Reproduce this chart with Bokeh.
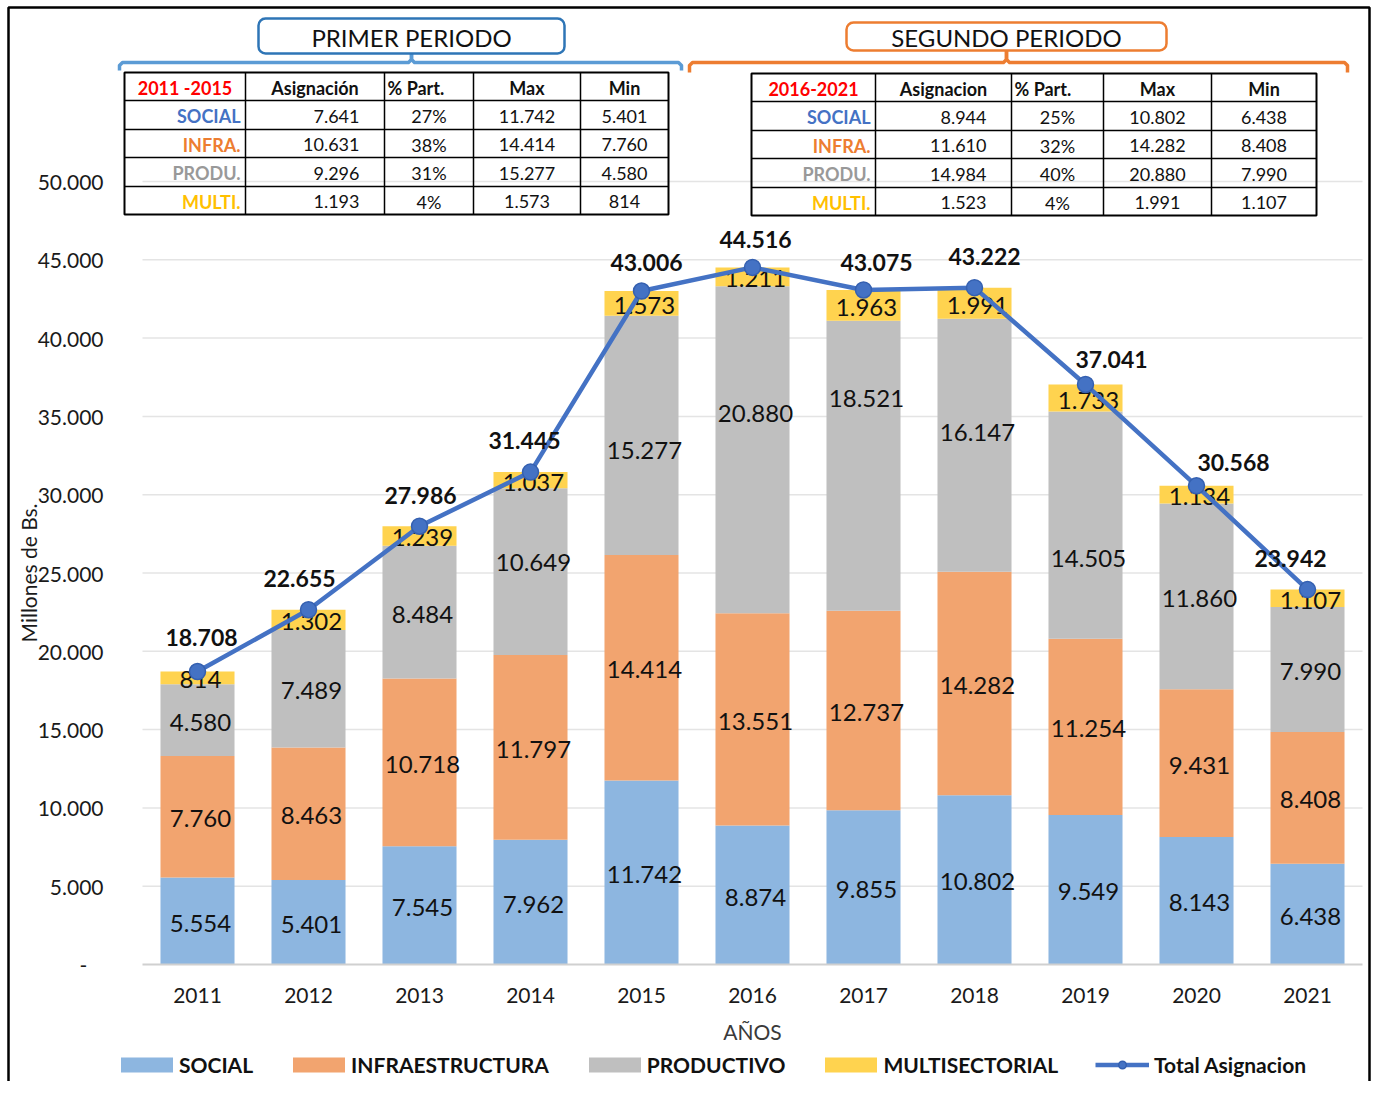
import numpy as np
from bokeh.plotting import figure
from bokeh.models import ColumnDataSource, Range1d, FixedTicker, Legend, LegendItem, BoxAnnotation
from bokeh.core.properties import value
from bokeh.embed import file_html
from bokeh.resources import INLINE

# ---------------- data ----------------
YEARS = [2011, 2012, 2013, 2014, 2015, 2016, 2017, 2018, 2019, 2020, 2021]
SOCIAL = [5554, 5401, 7545, 7962, 11742, 8874, 9855, 10802, 9549, 8143, 6438]
INFRA = [7760, 8463, 10718, 11797, 14414, 13551, 12737, 14282, 11254, 9431, 8408]
PRODU = [4580, 7489, 8484, 10649, 15277, 20880, 18521, 16147, 14505, 11860, 7990]
MULTI = [814, 1302, 1239, 1037, 1573, 1211, 1963, 1991, 1733, 1134, 1107]
TOTAL = [18708, 22655, 27986, 31445, 43006, 44516, 43075, 43222, 37041, 30568, 23942]

SERIES_NAMES = ["SOCIAL", "INFRAESTRUCTURA", "PRODUCTIVO", "MULTISECTORIAL"]
LINE_NAME = "Total Asignacion"
Y_TICKS = [0, 5000, 10000, 15000, 20000, 25000, 30000, 35000, 40000, 45000, 50000]
Y_TITLE = "Millones de Bs."
X_TITLE = "AÑOS"

T_ROW_LABELS = ["SOCIAL", "INFRA.", "PRODU.", "MULTI."]
T1_TITLE = "PRIMER PERIODO"
T1_HEAD = ["2011 -2015", "Asignación", "% Part.", "Max", "Min"]
T1_ASIG = [7641, 10631, 9296, 1193]
T1_PART = [27, 38, 31, 4]
T1_MAX = [11742, 14414, 15277, 1573]
T1_MIN = [5401, 7760, 4580, 814]
T2_TITLE = "SEGUNDO PERIODO"
T2_HEAD = ["2016-2021", "Asignacion", "% Part.", "Max", "Min"]
T2_ASIG = [8944, 11610, 14984, 1523]
T2_PART = [25, 32, 40, 4]
T2_MAX = [10802, 14282, 20880, 1991]
T2_MIN = [6438, 8408, 7990, 1107]

# ---------------- layout / style (pixel geometry) ----------------
W, H = 1371, 1081
Y_ZERO_PX = 964
PX_YEAR = 111.0
X_FIRST = 197.0
PX_PER_UNIT = 0.01566
BAR_W = 0.667

C_SOCIAL, C_INFRA, C_PRODU, C_MULTI = "#8DB6E0", "#F2A46F", "#BFBFBF", "#FFD34F"
C_LINE = "#4472C4"
ROW_COLORS = ["#4472C4", "#ED7D31", "#999999", "#FFC000"]
FONT = value("Lato")

# label nudges in pixels (positive = down / right)
TOTAL_DX = [4, -9, 1, -6, 5, 3, 13, 10, 26, 37, -17]
TOTAL_UP = [34, 31, 31, 32, 28.5, 28, 27.5, 31, 25, 23, 31]
PRODU_DY = [0, 0, 0, -11, 13, -38, -69, -15, 31, 0, 0]
SEG_DY_ALL = 2

T1_COLS = [124, 245, 384, 473, 580, 668]
T1_ROWS = [72, 100, 129, 157, 186, 214]
T2_COLS = [751, 875, 1011, 1103, 1211, 1316]
T2_ROWS = [73, 101, 130, 158, 187, 215]


def X(px):
    return 2011 + (px - X_FIRST) / PX_YEAR


def Y(py):
    return (Y_ZERO_PX - py) / PX_PER_UNIT


def fmt(v):
    return f"{int(round(v)):,}".replace(",", ".")


p = figure(width=W, height=H, output_backend="svg", toolbar_location=None,
           x_range=Range1d(X(0), X(W)), y_range=Range1d(Y(H), Y(0)),
           min_border=0, min_border_left=0, min_border_right=0,
           min_border_top=0, min_border_bottom=0)
p.border_fill_color = "white"
p.background_fill_color = "white"
p.outline_line_color = None
p.xgrid.visible = False
p.ygrid.visible = False

# outer border of the chart area
border = BoxAnnotation(left=8, right=W - 2, top=7, bottom=H + 20,
                       left_units="canvas", right_units="canvas",
                       top_units="canvas", bottom_units="canvas",
                       fill_color=None, fill_alpha=0, line_color="black", line_alpha=1.0,
                       line_width=2.5, level="overlay")
p.add_layout(border)

# axes (fixed inside the frame)
yax = p.yaxis[0]
yax.fixed_location = X(113)
yax.bounds = (Y_TICKS[0], Y_TICKS[-1])
yax.ticker = FixedTicker(ticks=Y_TICKS)
yax.major_label_overrides = {t: (fmt(t) if t else "-\u00a0\u00a0\u00a0") for t in Y_TICKS}
yax.axis_line_color = None
yax.major_tick_line_color = None
yax.minor_tick_line_color = None
yax.major_label_standoff = 4
yax.major_label_text_font = "Lato"
yax.major_label_text_font_size = "21px"
yax.major_label_text_color = "#1a1a1a"
yax.axis_label = Y_TITLE
yax.axis_label_standoff = -6
yax.axis_label_text_font = "Lato"
yax.axis_label_text_font_size = "21px"
yax.axis_label_text_font_style = "normal"
yax.axis_label_text_color = "#1a1a1a"

xax = p.xaxis[0]
xax.fixed_location = 0
xax.ticker = FixedTicker(ticks=YEARS)
xax.major_label_overrides = {y: str(y) for y in YEARS}
xax.bounds = (X(142), X(1362))
xax.axis_line_color = "#d0d0d0"
xax.axis_line_width = 2
xax.major_tick_line_color = None
xax.minor_tick_line_color = None
xax.major_label_standoff = 17
xax.major_label_text_font = "Lato"
xax.major_label_text_font_size = "21px"
xax.major_label_text_color = "#1a1a1a"
xax.axis_label = X_TITLE
xax.axis_label_standoff = 13
xax.axis_label_text_font = "Lato"
xax.axis_label_text_font_size = "21px"
xax.axis_label_text_font_style = "normal"
xax.axis_label_text_color = "#3a3a3a"

# gridlines
p.segment(x0=X(142), x1=X(1362), y0=Y_TICKS[1:], y1=Y_TICKS[1:], line_color="#e4e4e4", line_width=1.5)

# bars
src = ColumnDataSource(dict(year=YEARS, SOCIAL=SOCIAL, INFRA=INFRA, PRODU=PRODU, MULTI=MULTI, TOTAL=TOTAL))
stack_cols = ["SOCIAL", "INFRA", "PRODU", "MULTI"]
bars = p.vbar_stack(stack_cols, x="year", width=BAR_W, source=src,
                    fill_color=[C_SOCIAL, C_INFRA, C_PRODU, C_MULTI], line_color=None)

# segment labels
arr = np.array([SOCIAL, INFRA, PRODU, MULTI], dtype=float)
cum = arr.cumsum(axis=0)
mid = cum - arr / 2.0
seg_x, seg_y, seg_t = [], [], []
for k in range(arr.shape[0]):
    for i, yr in enumerate(YEARS):
        nudge = SEG_DY_ALL + (PRODU_DY[i] if k == 2 else 0)
        seg_x.append(yr + 3 / PX_YEAR)
        seg_y.append(mid[k, i] - nudge / PX_PER_UNIT)
        seg_t.append(fmt(arr[k, i]))
p.text(x=seg_x, y=seg_y, text=seg_t, text_align="center", text_baseline="middle",
       text_font=FONT, text_font_size="24px", text_color="#111111")

# total line
line_r = p.line("year", "TOTAL", source=src, line_color=C_LINE, line_width=4.5)
scat_r = p.scatter("year", "TOTAL", source=src, size=16, fill_color=C_LINE, line_color="#3560B0", line_width=1.5)
lab_x = [yr + dx / PX_YEAR for yr, dx in zip(YEARS, TOTAL_DX)]
lab_y = [t + dy / PX_PER_UNIT for t, dy in zip(TOTAL, TOTAL_UP)]
p.text(x=lab_x, y=lab_y, text=[fmt(t) for t in TOTAL], text_align="center", text_baseline="middle",
       text_font=FONT, text_font_size="23px", text_font_style="bold", text_color="#111111")


# ---------------- tables ----------------
def txt(xs, ys, texts, align="center", size="18px", style="normal", color="#111111"):
    p.text(x=[X(v) for v in xs], y=[Y(v) for v in ys], text=texts, text_align=align,
           text_baseline="middle", text_font=FONT, text_font_size=size,
           text_font_style=style, text_color=color)


def table(cols, rows, head, asig, part, mx, mn):
    p.multi_line(xs=[[X(cols[0]), X(cols[-1])] for _ in rows[1:-1]],
                 ys=[[Y(r), Y(r)] for r in rows[1:-1]], line_color="black", line_width=1.5)
    p.multi_line(xs=[[X(c), X(c)] for c in cols[1:-1]],
                 ys=[[Y(rows[0]), Y(rows[-1])] for _ in cols[1:-1]], line_color="black", line_width=1.5)
    p.quad(left=X(cols[0]), right=X(cols[-1]), top=Y(rows[0]), bottom=Y(rows[-1]),
           fill_color=None, line_color="black", line_width=2)
    cy = [(rows[i] + rows[i + 1]) / 2 + 1 for i in range(len(rows) - 1)]
    cx = [(cols[i] + cols[i + 1]) / 2 for i in range(len(cols) - 1)]
    txt([cx[0]], [cy[0]], [head[0]], style="bold", color="#FF0000")
    txt([cx[1], cx[3], cx[4]], [cy[0]] * 3, [head[1], head[3], head[4]], style="bold")
    txt([cols[2] + 3], [cy[0]], [head[2]], align="left", style="bold")
    n = len(T_ROW_LABELS)
    txt([cols[1] - 5] * n, cy[1:], T_ROW_LABELS, align="right", style="bold", color=ROW_COLORS)
    txt([cols[2] - 25] * n, cy[1:], [fmt(v) for v in asig], align="right")
    txt([cx[2]] * n, cy[1:], [f"{v}%" for v in part])
    txt([cx[3]] * n, cy[1:], [fmt(v) for v in mx])
    txt([cx[4]] * n, cy[1:], [fmt(v) for v in mn])


def header(l, r, t, b, label, box_color, br_color, br_l, br_r, br_y, br_end):
    xm = (l + r) / 2
    p.multi_line(xs=[[X(br_l), X(br_l), X(br_l + 3), X(xm - 3), X(xm), X(xm)],
                     [X(xm), X(xm), X(xm + 3), X(br_r - 3), X(br_r), X(br_r)]],
                 ys=[[Y(br_end), Y(br_y + 3), Y(br_y), Y(br_y), Y(br_y - 3), Y(b)],
                     [Y(b), Y(br_y - 3), Y(br_y), Y(br_y), Y(br_y + 3), Y(br_end)]],
                 line_color=br_color, line_width=3.5, line_join="round")
    p.quad(left=X(l), right=X(r), top=Y(t), bottom=Y(b), fill_color="white",
           line_color=box_color, line_width=2.5, border_radius=7)
    txt([xm], [(t + b) / 2 + 1], [label], size="24px", color="#111111")


header(258, 564, 18, 53, T1_TITLE, "#2E75B6", "#5B9BD5", 119, 681, 62, 70)
header(846, 1166, 22, 50, T2_TITLE, "#ED7D31", "#ED7D31", 689, 1347, 62, 72)
table(T1_COLS, T1_ROWS, T1_HEAD, T1_ASIG, T1_PART, T1_MAX, T1_MIN)
table(T2_COLS, T2_ROWS, T2_HEAD, T2_ASIG, T2_PART, T2_MAX, T2_MIN)

# ---------------- legends ----------------
LEG_STYLE = dict(orientation="horizontal", padding=8, margin=0, border_line_color=None,
                 background_fill_alpha=0, label_text_font="Lato", label_text_font_size="21px",
                 label_text_font_style="bold", label_text_color="#111111")
bar_items = [LegendItem(label=n, renderers=[r]) for n, r in zip(SERIES_NAMES, bars)]
leg_bars = Legend(items=bar_items, location=(114, 4), glyph_width=65, glyph_height=19,
                  label_standoff=0, spacing=33, **LEG_STYLE)
leg_line = Legend(items=[LegendItem(label=LINE_NAME, renderers=[line_r, scat_r])],
                  location=(1095, 4), glyph_width=54, glyph_height=19,
                  label_standoff=5, spacing=0, **LEG_STYLE)
p.add_layout(leg_bars)
p.add_layout(leg_line)

open("out.html", "w").write(file_html(p, INLINE))
